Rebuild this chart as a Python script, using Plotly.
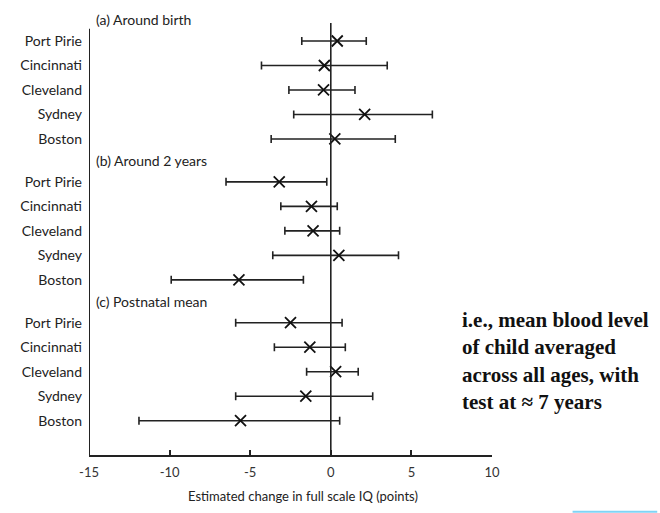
import plotly.graph_objects as go

cities = ["Port Pirie", "Cincinnati", "Cleveland", "Sydney", "Boston"]
groups = ["(a) Around birth", "(b) Around 2 years", "(c) Postnatal mean"]

est_a = [0.4, -0.4, -0.45, 2.1, 0.25]
low_a = [-1.8, -4.3, -2.6, -2.3, -3.7]
high_a = [2.2, 3.5, 1.5, 6.3, 4.0]

est_b = [-3.2, -1.2, -1.1, 0.5, -5.7]
low_b = [-6.5, -3.1, -2.85, -3.6, -9.9]
high_b = [-0.25, 0.4, 0.55, 4.2, -1.7]

est_c = [-2.5, -1.3, 0.3, -1.55, -5.6]
low_c = [-5.9, -3.5, -1.5, -5.9, -11.9]
high_c = [0.7, 0.9, 1.7, 2.6, 0.55]

x_ticks = [-15, -10, -5, 0, 5, 10]
x_tick_labels = ["-15", "-10", "-5", "0", "5", "10"]
note_lines = ["i.e., mean blood level", "of child averaged", "across all ages, with", "test at \u2248 7 years"]

GAP = 5.75
Y_BOTTOM = 16.9
sans = "Lato, 'Open Sans', sans-serif"

fig = go.Figure()
tickvals, ticktext = [], []
for g, (est, lo, hi) in enumerate([(est_a, low_a, high_a), (est_b, low_b, high_b), (est_c, low_c, high_c)]):
    ys = [g * GAP + r for r in range(len(cities))]
    tickvals += ys
    ticktext += cities
    fig.add_trace(go.Scatter(
        x=est, y=ys, mode="markers",
        marker=dict(symbol="x-thin-open", size=11, color="#111", line=dict(width=1.8, color="#111")),
        error_x=dict(type="data", symmetric=False,
                     array=[h - e for h, e in zip(hi, est)],
                     arrayminus=[e - l for e, l in zip(est, lo)],
                     color="#222", thickness=1.6, width=4),
        showlegend=False, hoverinfo="skip"))
    fig.add_annotation(x=-15, y=g * GAP - 0.86, xref="x", yref="y", text=groups[g],
                       showarrow=False, xanchor="left", yanchor="middle", xshift=5,
                       font=dict(family=sans, size=14, color="#222"))

# zero reference line and left axis line
fig.add_shape(type="line", xref="x", yref="y", x0=0, x1=0, y0=-0.73, y1=Y_BOTTOM,
              line=dict(color="#222", width=1.6))
fig.add_shape(type="line", xref="x", yref="y", x0=-15, x1=-15, y0=-0.5, y1=Y_BOTTOM,
              line=dict(color="#222", width=2))

fig.add_annotation(x=0.53, y=-0.07, xref="paper", yref="paper",
                   text="Estimated change in full scale IQ (points)", showarrow=False,
                   xanchor="center", yanchor="top", font=dict(family=sans, size=13, color="#222"))

fig.add_annotation(x=0.92, y=0.214, xref="paper", yref="paper",
                   text="<br>".join("<b>" + s + "</b>" for s in note_lines),
                   showarrow=False, xanchor="left", yanchor="middle", align="left",
                   font=dict(family="'Liberation Serif', 'Times New Roman', serif", size=21, color="#111"))

fig.add_shape(type="line", xref="paper", yref="paper", x0=1.2, x1=1.41, y0=-0.129, y1=-0.129,
              line=dict(color="#7fd3f5", width=2))

fig.update_xaxes(range=[-15, 10], tickvals=x_ticks, ticktext=x_tick_labels, ticks="inside",
                 ticklen=5, tickwidth=1.5, tickcolor="#222", showline=True, linecolor="#222",
                 linewidth=1.5, showgrid=False, zeroline=False, ticklabelstandoff=5,
                 tickfont=dict(family=sans, size=13, color="#333"))
fig.update_yaxes(range=[Y_BOTTOM, -1.02], tickvals=tickvals, ticktext=ticktext, ticks="",
                 showline=False, showgrid=False, zeroline=False,
                 ticklabelstandoff=6, tickfont=dict(family=sans, size=14, color="#222"))

fig.update_layout(width=660, height=513, margin=dict(l=89, r=168, t=16, b=58),
                  plot_bgcolor="white", paper_bgcolor="white")

fig.write_html("out.html", config={"displayModeBar": False},
               post_script="document.body.style.margin='0';document.body.style.overflow='hidden';")
